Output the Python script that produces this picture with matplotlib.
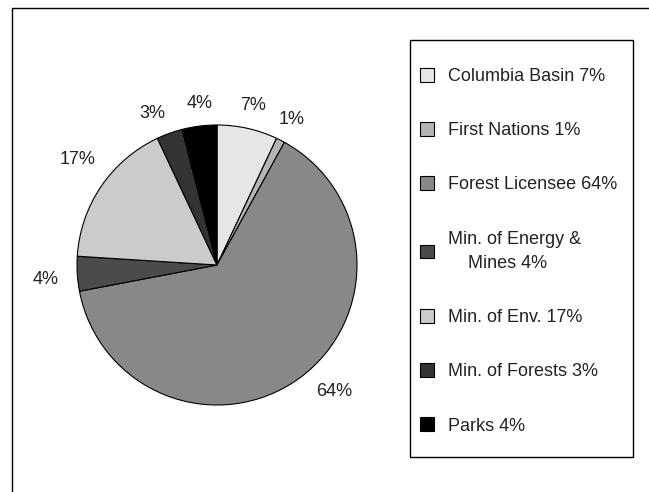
import matplotlib.pyplot as plt
from matplotlib.patches import Rectangle

plt.rcParams['font.family'] = ['Liberation Sans', 'DejaVu Sans']

# 数据
labels = ['Columbia Basin 7%', 'First Nations 1%', 'Forest Licensee 64%',
          'Min. of Energy &\n    Mines 4%', 'Min. of Env. 17%',
          'Min. of Forests 3%', 'Parks 4%']
values = [7, 1, 64, 4, 17, 3, 4]
colors = ['#e6e6e6', '#b4b4b4', '#888888', '#4b4b4b', '#cbcbcb', '#333333', '#000000']

W, H = 649, 492
fig = plt.figure(figsize=(W / 100, H / 100), dpi=100)
ax = fig.add_axes([0, 0, 1, 1])

wedges, texts, autotexts = ax.pie(
    values, colors=colors, startangle=90, counterclock=False,
    center=(217, 227), radius=140, frame=True,
    autopct='%d%%', pctdistance=1.17,
    wedgeprops=dict(edgecolor='black', linewidth=0.8),
    textprops=dict(fontsize=13, color='#222222'))
ax.set_xlim(0, W)
ax.set_ylim(0, H)
ax.set_aspect('equal')
ax.axis('off')

# 标签位置微调 (Excel 的 best fit)
autotexts[2].set_position((334, H - 392))
autotexts[3].set_position((46, H - 279))
autotexts[4].set_position((78, H - 160))
autotexts[5].set_position((152, H - 113))
autotexts[6].set_position((200, H - 103))

# 外框
ax.plot([12, 12, W], [0, H - 8, H - 8], color='black', linewidth=1)

# 图例框
ax.add_patch(Rectangle((410, H - 457), 223, 417, facecolor='white',
                       edgecolor='black', linewidth=1))

leg = ax.legend(wedges, labels, loc='upper left',
                bbox_to_anchor=(404 / W, 1 - 52 / H), frameon=False,
                fontsize=13, handlelength=0.78, handleheight=0.78,
                handletextpad=0.75, labelspacing=2.05)
for t in leg.get_texts():
    t.set_color('#222222')
    t.set_linespacing(1.6)

plt.savefig('out.png', dpi=100)
